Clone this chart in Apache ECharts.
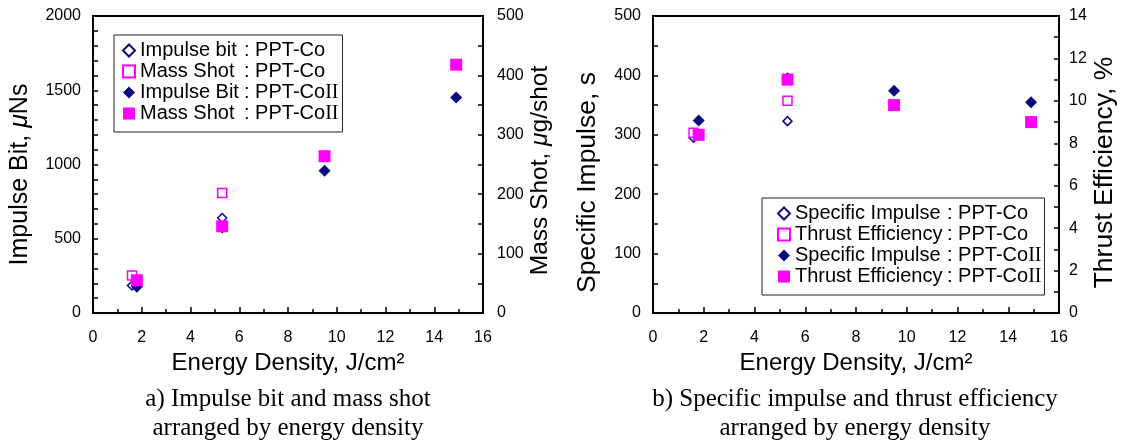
<!DOCTYPE html>
<html><head><meta charset="utf-8">
<script src="https://cdn.jsdelivr.net/npm/echarts@6/dist/echarts.min.js"></script>
<style>html,body{margin:0;padding:0;background:#fff}#c{width:1127px;height:447px}</style>
</head><body><div id="c"></div>
<script>
// ---- data ----
const energyCo = [1.6, 5.3];
const energyCoII = [1.8, 5.3, 9.5, 14.9];
const impulseBitCo = [185, 640];          // µNs
const massShotCo = [63, 202];             // µg/shot
const impulseBitCoII = [177, 575, 958, 1452];
const massShotCoII = [55, 146, 264, 418];
const ispCo = [295, 323];                 // s
const effCo = [8.5, 10.0];                // %
const ispCoII = [324, 395, 374, 355];
const effCoII = [8.4, 11.0, 9.8, 9.0];
const xTicks = [0, 2, 4, 6, 8, 10, 12, 14, 16];
const legendA = ['Impulse bit : PPT-Co', 'Mass Shot : PPT-Co', 'Impulse Bit : PPT-CoII', 'Mass Shot : PPT-CoII'];
const legendB = ['Specific Impulse : PPT-Co', 'Thrust Efficiency : PPT-Co', 'Specific Impulse : PPT-CoII', 'Thrust Efficiency : PPT-CoII'];
const xTitle = 'Energy Density, J/cm²';
const captionA = ['a) Impulse bit and mass shot', 'arranged by energy density'];
const captionB = ['b) Specific impulse and thrust efficiency', 'arranged by energy density'];

// ---- style ----
const SANS = '"Liberation Sans", Arial, Helvetica, sans-serif';
const SERIF = '"Liberation Serif", "Times New Roman", serif';
const NAVY = '#0a0a80';
const MAG = '#ff00ff';
const pairs = (xs, ys) => xs.map((x, i) => [x, ys[i]]);
const plain = v => String(v);

function xAx(gi) {
  return {
    type: 'value', gridIndex: gi, min: xTicks[0], max: xTicks[xTicks.length - 1], interval: xTicks[1] - xTicks[0],
    axisLine: { show: true, onZero: false, lineStyle: { color: '#000', width: 2 } },
    axisTick: { show: true, inside: true, length: 6, lineStyle: { color: '#000', width: 1.5 } },
    minorTick: { show: true, splitNumber: 2, length: 4, lineStyle: { color: '#000', width: 1.5 } },
    splitLine: { show: false }, minorSplitLine: { show: false },
    axisLabel: { color: '#000', fontSize: 16, fontFamily: SANS, margin: 17, formatter: plain },
    name: xTitle, nameLocation: 'middle', nameGap: 38,
    nameTextStyle: { color: '#000', fontSize: 24, fontFamily: SANS }
  };
}
function yAx(gi, pos, max, interval, minorSplit, margin, name, nameGap, fs, shift) {
  return {
    type: 'value', gridIndex: gi, position: pos, min: 0, max: max, interval: interval,
    axisLine: { show: true, onZero: false, lineStyle: { color: '#000', width: 2 } },
    axisTick: { show: true, inside: true, length: 5, lineStyle: { color: '#000', width: 1.5 } },
    minorTick: { show: true, splitNumber: minorSplit, length: 5, lineStyle: { color: '#000', width: 1.5 } },
    splitLine: { show: false }, minorSplitLine: { show: false },
    axisLabel: { color: '#000', fontSize: 16, fontFamily: SANS, margin: margin, formatter: plain },
    name: name, nameLocation: 'middle', nameRotate: 90, nameGap: nameGap,
    nameTextStyle: {
      color: '#000', fontSize: fs, fontFamily: SANS, lineHeight: fs + 1,
      padding: [0, shift * 2, 0, 0],
      rich: {
        n: { color: '#000', fontSize: fs, fontFamily: SANS, lineHeight: fs + 1 },
        i: { color: '#000', fontSize: fs, fontFamily: SANS, fontStyle: 'italic', lineHeight: fs + 1 }
      }
    }
  };
}
function legendFmt(name) {
  const parts = name.split(' : ');
  const m = parts[1].match(/^(PPT-Co)(II)?$/);
  return '{a|' + parts[0] + '}{b|: ' + m[1] + '}' + (m[2] ? '{r|' + m[2] + '}' : '');
}
function legendCfg(names, left, top, pad, aWidth) {
  const icons = ['diamond', 'rect', 'diamond', 'rect'];
  return {
    orient: 'vertical', left: left, top: top, padding: pad, itemGap: 0,
    itemWidth: 12, itemHeight: 12, selectedMode: false,
    backgroundColor: '#fff', borderColor: '#222', borderWidth: 1,
    data: names.map((n, i) => ({ name: n, icon: icons[i] })),
    formatter: legendFmt,
    textStyle: {
      color: '#000', fontSize: 20, fontFamily: SANS, lineHeight: 21,
      rich: {
        a: { width: aWidth, color: '#000', fontSize: 20, fontFamily: SANS, lineHeight: 21 },
        b: { color: '#000', fontSize: 20, fontFamily: SANS, lineHeight: 21 },
        r: { color: '#000', fontSize: 20, fontFamily: SERIF, lineHeight: 21 }
      }
    }
  };
}
function hollow(name, xi, yi, data, symbol, color) {
  return { name, type: 'scatter', xAxisIndex: xi, yAxisIndex: yi, data, symbol, symbolSize: 9,
    itemStyle: { color: '#fff', borderColor: color, borderWidth: 1.5, opacity: 1 }, silent: true };
}
function filled(name, xi, yi, data, symbol, color) {
  return { name, type: 'scatter', xAxisIndex: xi, yAxisIndex: yi, data, symbol, symbolSize: 12,
    itemStyle: { color: color, opacity: 1 }, silent: true };
}

const chart = echarts.init(document.getElementById('c'));
chart.setOption({
  animation: false,
  backgroundColor: '#fff',
  grid: [
    { left: 93, top: 16, width: 390, height: 297, show: true, borderColor: '#000', borderWidth: 2, backgroundColor: 'transparent', outerBoundsMode: 'none' },
    { left: 653, top: 16, width: 406, height: 297, show: true, borderColor: '#000', borderWidth: 2, backgroundColor: 'transparent', outerBoundsMode: 'none' }
  ],
  xAxis: [xAx(0), xAx(1)],
  yAxis: [
    yAx(0, 'left', 2000, 500, 5, 12, '{n|Impulse Bit, }{i|μ}{n|Ns}', 60, 25, 10),
    yAx(0, 'right', 500, 100, 2, 14, '{n|Mass Shot, }{i|μ}{n|g/shot}', 44, 24.5, 6),
    yAx(1, 'left', 500, 100, 2, 12, '{n|Specific Impulse, s}', 52, 26.5, 18),
    yAx(1, 'right', 14, 2, 2, 10, '{n|Thrust Efficiency, %}', 28, 26.5, 8)
  ],
  legend: [
    legendCfg(legendA, 114, 35, [5, 4, 8, 8], 104),
    legendCfg(legendB, 762, 198, [5, 3, 8, 15], 152)
  ],
  series: [
    hollow(legendA[0], 0, 0, pairs(energyCo, impulseBitCo), 'diamond', NAVY),
    hollow(legendA[1], 0, 1, pairs(energyCo, massShotCo), 'rect', MAG),
    filled(legendA[2], 0, 0, pairs(energyCoII, impulseBitCoII), 'diamond', NAVY),
    filled(legendA[3], 0, 1, pairs(energyCoII, massShotCoII), 'rect', MAG),
    hollow(legendB[0], 1, 2, pairs(energyCo, ispCo), 'diamond', NAVY),
    hollow(legendB[1], 1, 3, pairs(energyCo, effCo), 'rect', MAG),
    filled(legendB[2], 1, 2, pairs(energyCoII, ispCoII), 'diamond', NAVY),
    filled(legendB[3], 1, 3, pairs(energyCoII, effCoII), 'rect', MAG)
  ],
  graphic: [
    { type: 'text', x: 288, y: 385, silent: true,
      style: { text: captionA.join('\n'), fill: '#000', fontSize: 25, fontFamily: SERIF, align: 'center', verticalAlign: 'top', lineHeight: 29 } },
    { type: 'text', x: 855, y: 385, silent: true,
      style: { text: captionB.join('\n'), fill: '#000', fontSize: 25, fontFamily: SERIF, align: 'center', verticalAlign: 'top', lineHeight: 29 } }
  ]
});
</script>
</body></html>
